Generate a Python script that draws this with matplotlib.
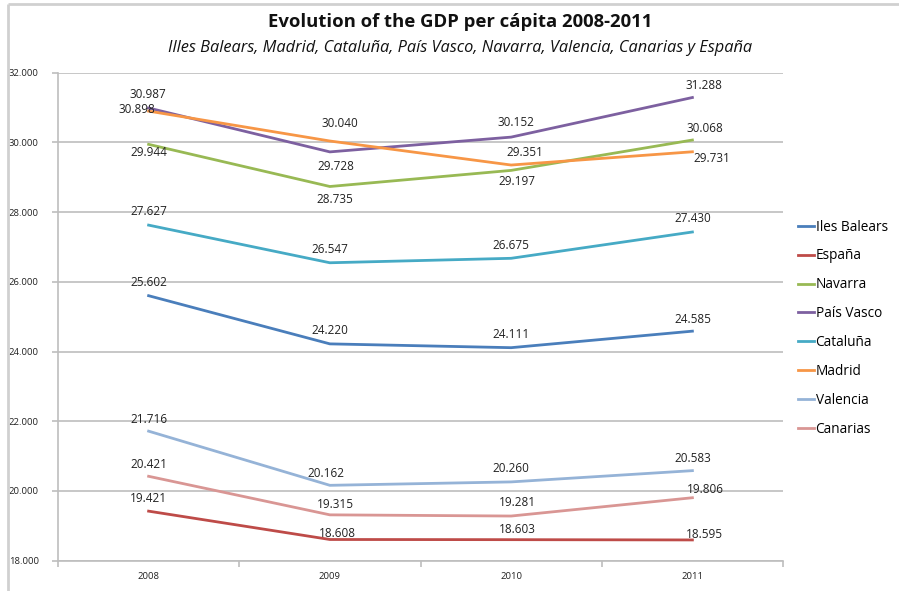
import matplotlib
matplotlib.use("Agg")
import matplotlib.pyplot as plt
from matplotlib.lines import Line2D

years = ["2008", "2009", "2010", "2011"]

regions = ["Iles Balears", "España", "Navarra", "País Vasco",
           "Cataluña", "Madrid", "Valencia", "Canarias"]

iles_balears = [25602, 24220, 24111, 24585]
espana = [19421, 18608, 18603, 18595]
navarra = [29944, 28735, 29197, 30068]
pais_vasco = [30987, 29728, 30152, 31288]
cataluna = [27627, 26547, 26675, 27430]
madrid = [30898, 30040, 29351, 29731]
valencia = [21716, 20162, 20260, 20583]
canarias = [20421, 19315, 19281, 19806]

series = [iles_balears, espana, navarra, pais_vasco,
          cataluna, madrid, valencia, canarias]

colors = ["#4A7EBB", "#BE4B48", "#98B954", "#7D60A0",
          "#46AAC5", "#F79646", "#95B3D7", "#D99694"]

# label offsets in pixels (dx, dy; dy positive = upward) per region and year
label_offsets = {
    "Iles Balears": [(0, 13), (0, 13), (0, 13), (0, 12)],
    "España": [(0, 13), (8, 6), (6, 10), (12, 5)],
    "Navarra": [(0, -8), (5, -13), (6, -11), (12, 12)],
    "País Vasco": [(-1, 14), (6, -15), (5, 15), (12, 12)],
    "Cataluña": [(0, 14), (0, 13), (0, 13), (0, 13)],
    "Madrid": [(-12, 2), (10, 18), (14, 13), (19, -7)],
    "Valencia": [(0, 12), (-4, 12), (0, 13), (0, 12)],
    "Canarias": [(0, 12), (6, 10), (6, 14), (13, 8)],
}


def fmt(v):
    return f"{v:,}".replace(",", ".")


plt.rcParams["font.family"] = ["Open Sans", "DejaVu Sans"]

fig = plt.figure(figsize=(8.99, 5.91), dpi=100)
ax = fig.add_axes([0.0645, 0.0513, 0.8065, 0.8257])

x = list(range(len(years)))
for name, vals, col in zip(regions, series, colors):
    ax.plot(x, vals, color=col, lw=2.0, solid_joinstyle="miter", zorder=3)
    for i, v in enumerate(vals):
        dx, dy = label_offsets[name][i]
        ax.annotate(fmt(v), (i, v), xytext=(dx, dy), textcoords="offset pixels",
                    ha="center", va="center", fontsize=8.5, color="#222222",
                    zorder=4)

ax.set_xlim(-0.5, 3.5)
ax.set_ylim(18000, 32000)
yt = list(range(18000, 32001, 2000))
ax.set_yticks(yt)
ax.set_yticklabels([fmt(v) for v in yt], fontsize=6.8, color="#222222",
                   ha="left")
ax.yaxis.grid(True, color="#BEBEBE", lw=1.2)
ax.set_axisbelow(True)

ax.set_xticks(x)
ax.set_xticklabels(years, fontsize=6.8, color="#222222")
ax.set_xticks([-0.5, 0.5, 1.5, 2.5, 3.5], minor=True)
ax.tick_params(axis="x", which="major", length=0, pad=8)
ax.tick_params(axis="x", which="minor", length=4, color="#BEBEBE", width=1.2)
ax.tick_params(axis="y", length=4, color="#BEBEBE", width=1.2, pad=31.5)

for s in ["top", "right"]:
    ax.spines[s].set_visible(False)
ax.spines["left"].set_color("#BEBEBE")
ax.spines["bottom"].set_color("#BEBEBE")
ax.spines["left"].set_linewidth(1.2)
ax.spines["bottom"].set_linewidth(1.2)

fig.text(0.512, 0.962, "Evolution of the GDP per cápita 2008-2011",
         ha="center", va="center", fontsize=13.3, fontweight="bold",
         color="#111111")
fig.text(0.512, 0.918,
         "Illes Balears, Madrid, Cataluña, País Vasco, Navarra, Valencia, Canarias y España",
         ha="center", va="center", fontsize=11.8, style="italic", color="#111111")

handles = [Line2D([0], [0], color=c, lw=2) for c in colors]
fig.legend(handles, regions, loc="upper left", bbox_to_anchor=(0.88, 0.64),
           frameon=False, fontsize=9.8, handlelength=1.2, handletextpad=0.1,
           labelspacing=1.02, borderpad=0)

# outer chart frame
fig.add_artist(Line2D([0.009, 1.0], [0.993, 0.993], color="#D0D0D0", lw=2,
                      solid_capstyle="butt", transform=fig.transFigure))
fig.add_artist(Line2D([0.009, 0.009], [0.0, 0.993], color="#D0D0D0", lw=2,
                      solid_capstyle="butt", transform=fig.transFigure))

fig.savefig("out.png", dpi=100)
